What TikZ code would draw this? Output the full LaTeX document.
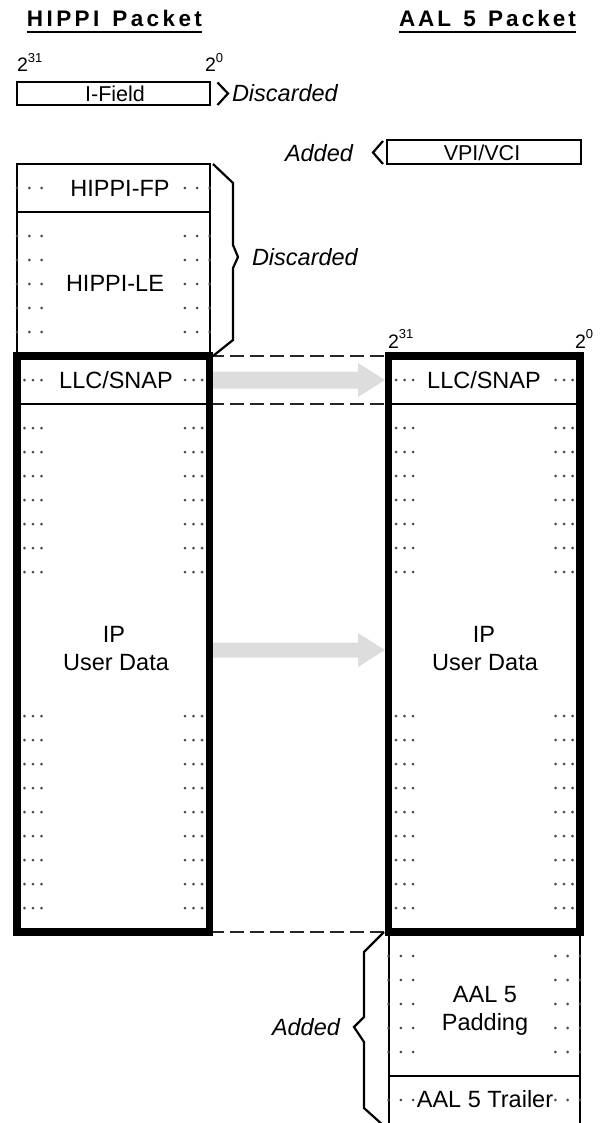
\documentclass[tikz,border=0pt]{standalone}
\usepackage{fontspec}
\setmainfont{Liberation Sans}
\usetikzlibrary{calc}
\definecolor{agray}{HTML}{DDDDDD}
\definecolor{dotc}{HTML}{4A4A4A}
\newcommand\thindots[3]{%
  \foreach \d in {0,12.3,24.6}{%
    \fill[dotc] ({#1+\d},#3) circle[radius=1.5pt];
    \fill[dotc] ({#2-\d},#3) circle[radius=1.5pt];}}
\newcommand\thickdots[3]{%
  \foreach \d in {7.5,16,24.5}{%
    \fill[dotc] ({#1+\d},#3) circle[radius=1.5pt];
    \fill[dotc] ({#2-\d},#3) circle[radius=1.5pt];}}
\newcommand\lska{\kern3.4pt}
\newcommand\lskb{\kern3.0pt}
\begin{document}
\begin{tikzpicture}[x=1pt,y=-1pt,
  box/.style={draw, line width=2pt, rectangle, inner sep=0pt, outer sep=0pt},
  bigbox/.style={draw, line width=7.5pt, rectangle, inner sep=0pt, outer sep=0pt},
  lbl/.style={inner sep=0pt, outer sep=0pt, anchor=base, font=\fontsize{23.5}{28}\selectfont},
  slbl/.style={inner sep=0pt, outer sep=0pt, anchor=base, font=\fontsize{21.5}{25}\selectfont},
  ilbl/.style={inner sep=0pt, outer sep=0pt, anchor=base west, font=\fontsize{23.5}{28}\selectfont\itshape},
  ttl/.style={inner sep=0pt, outer sep=0pt, anchor=base west, font=\fontsize{22.5}{26}\selectfont\bfseries},
  bit/.style={inner sep=0pt, outer sep=0pt, anchor=base west, font=\fontsize{19.5}{23}\selectfont},
  brc/.style={line width=2.2pt, line join=miter},
  dsh/.style={line width=2.2pt, dash pattern=on 14pt off 6pt, black!85},
  garrow/.style={fill=agray}
]
\useasboundingbox (0,0) rectangle (607,1123);

% titles
\node[ttl] (ht) at (27,26.5) {H\lska I\lska P\lska P\lska I\lska\ \lska P\lska a\lska c\lska k\lska e\lska t};
\node[ttl] (at) at (399,26.5) {A\lskb A\lskb L\lskb\ \lskb 5\lskb\ \lskb P\lskb a\lskb c\lskb k\lskb e\lskb t};
\draw[line width=1.8pt] ([yshift=-5.5pt]ht.base west) -- ([yshift=-5.5pt]ht.base east);
\draw[line width=1.8pt] ([yshift=-5.5pt]at.base west) -- ([yshift=-5.5pt]at.base east);

% bit labels
\node[bit] (b31a) at (17,72) {2\raisebox{9.5pt}{\fontsize{13}{15}\selectfont 31}};
\node[bit] (b0a) at (205,72) {2\raisebox{9.5pt}{\fontsize{13}{15}\selectfont 0}};
\node[bit] (b31b) at (388,348) {2\raisebox{9.5pt}{\fontsize{13}{15}\selectfont 31}};
\node[bit] (b0b) at (575,348) {2\raisebox{9.5pt}{\fontsize{13}{15}\selectfont 0}};

% I-Field and VPI/VCI
\node[box, minimum width=192.5pt, minimum height=23pt] (ifield) at (113.25,94) {};
\node[slbl] (tif) at (115,101.5) {I-Field};
\node[box, minimum width=194pt, minimum height=24pt] (vpi) at (484,152.5) {};
\node[slbl] (tvpi) at (482,160.5) {VPI/VCI};

% HIPPI header boxes
\node[box, minimum width=192.5pt, minimum height=48pt] (fp) at (113.25,188) {};
\node[box, minimum width=192.5pt, minimum height=144pt] (le) at (113.25,284) {};
\thindots{17}{209.5}{188}
\foreach \y in {236,260,284,308,332}{\thindots{17}{209.5}{\y}}
\node[lbl] (tfp) at (120,196.5) {HIPPI-FP};
\node[lbl] (tle) at (115,291.5) {HIPPI-LE};

% LLC/SNAP rows
\node[box, minimum width=192.5pt, minimum height=48pt] (llcL) at (113.25,380) {};
\node[box, minimum width=191.5pt, minimum height=48pt] (llcR) at (484.25,380) {};
\thickdots{17}{209.5}{380}
\thickdots{388.5}{580}{380}
\node[lbl] (tllcL) at (116,388.5) {LLC/SNAP};
\node[lbl] (tllcR) at (484,388.5) {LLC/SNAP};

% IP user data dots
\foreach \y in {428,452,476,500,524,548,572,716,740,764,788,812,836,860,884,908}{%
  \thickdots{17}{209.5}{\y}
  \thickdots{388.5}{580}{\y}}
\node[lbl] (tipL) at (114,642) {IP};
\node[lbl] (tudL) at (116,670) {User Data};
\node[lbl] (tipR) at (484,642) {IP};
\node[lbl] (tudR) at (485,670) {User Data};

% AAL5 padding and trailer
\node[box, minimum width=191.5pt, minimum height=144pt] (pad) at (484.25,1004) {};
\node[box, minimum width=191.5pt, minimum height=48pt] (trl) at (484.25,1100) {};
\foreach \y in {956,980,1004,1028,1052}{\thindots{388.5}{580}{\y}}
\thindots{388.5}{580}{1100}
\node[lbl] (taal) at (485,1002) {AAL 5};
\node[lbl] (tpad) at (485,1030) {Padding};
\node[lbl, fill=white, inner xsep=1pt] (ttr) at (485,1107) {AAL 5 Trailer};

% big thick boxes (nodes)
\node[bigbox, minimum width=192.5pt, minimum height=576pt] (bigL) at (113.25,644) {};
\node[bigbox, minimum width=191.5pt, minimum height=576pt] (bigR) at (484.25,644) {};

% dashed lines
\draw[dsh] (bigL.north east) -- (bigR.north west);
\draw[dsh] (llcL.south east) -- (llcR.south west);
\draw[dsh] (bigL.south east) -- (bigR.south west);

% gray arrows
\coordinate (g1s) at (213,380);
\coordinate (g1e) at (385,380);
\coordinate (g2s) at (213,650);
\coordinate (g2e) at (385,650);
\fill[garrow] ($(g1s)+(0,-8.5)$) -- ($(g1e)+(-27,-8.5)$) -- ($(g1e)+(-27,-17)$) -- (g1e)
  -- ($(g1e)+(-27,17)$) -- ($(g1e)+(-27,8.5)$) -- ($(g1s)+(0,8.5)$) -- cycle;
\fill[garrow] ($(g2s)+(0,-7.5)$) -- ($(g2e)+(-27,-7.5)$) -- ($(g2e)+(-27,-17)$) -- (g2e)
  -- ($(g2e)+(-27,17)$) -- ($(g2e)+(-27,7.5)$) -- ($(g2s)+(0,7.5)$) -- cycle;

% redraw thick boxes on top
\draw[line width=7.5pt] (bigL.north west) rectangle (bigL.south east);
\draw[line width=7.5pt] (bigR.north west) rectangle (bigR.south east);

% braces
\coordinate (i1) at (217.5,82.5); \coordinate (i2) at (228,93.5); \coordinate (i3) at (217.5,105);
\draw[brc] (i1) -- (i2) -- (i3);
\coordinate (v1) at (383,141); \coordinate (v2) at (373,152.5); \coordinate (v3) at (383,164);
\draw[brc] (v1) -- (v2) -- (v3);
\coordinate (h1) at (213,164); \coordinate (h2) at (233,183); \coordinate (h3) at (233,245);
\coordinate (h4) at (238,257); \coordinate (h5) at (233,268); \coordinate (h6) at (233,340);
\coordinate (h7) at (213,356);
\draw[brc] (h1) -- (h2) -- (h3) -- (h4) -- (h5) -- (h6) -- (h7);
\coordinate (p1) at (384,932); \coordinate (p2) at (364,952); \coordinate (p3) at (364,1017);
\coordinate (p4) at (354,1027); \coordinate (p5) at (364,1042); \coordinate (p6) at (364,1108);
\coordinate (p7) at (384,1126);
\draw[brc] (p1) -- (p2) -- (p3) -- (p4) -- (p5) -- (p6) -- (p7);

% italic labels
\node[ilbl] (d1) at (232,102) {Discarded};
\node[ilbl] (a1) at (285,162) {Added};
\node[ilbl] (d2) at (252,265.5) {Discarded};
\node[ilbl] (a2) at (272,1035) {Added};
\end{tikzpicture}
\end{document}
